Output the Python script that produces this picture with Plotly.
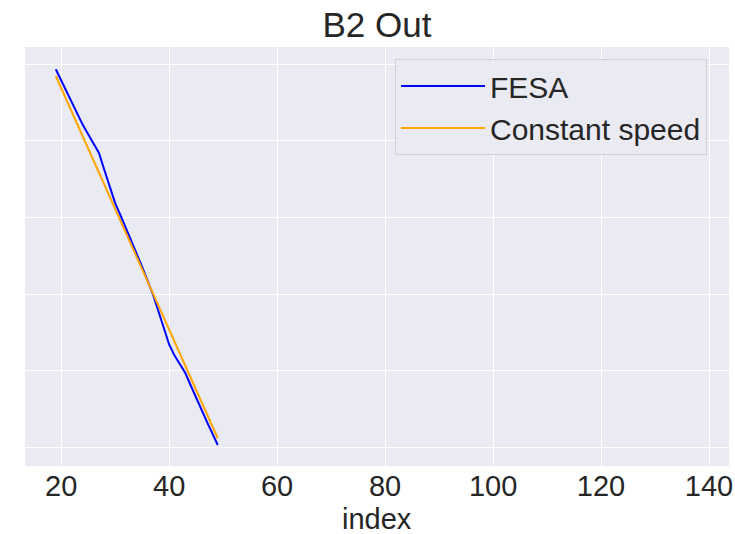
import plotly.graph_objects as go

# Data
fesa_x = list(range(19, 50))
fesa_y = [4.935, 4.787, 4.640, 4.492, 4.345, 4.210, 4.086, 3.962, 3.842, 3.621,
          3.406, 3.189, 3.026, 2.863, 2.700, 2.537, 2.356, 2.176, 1.995, 1.779,
          1.544, 1.343, 1.197, 1.082, 0.970, 0.807, 0.644, 0.484, 0.333, 0.181,
          0.030]
const_x = [19, 49]
const_y = [4.847, 0.118]

x_ticks = [20, 40, 60, 80, 100, 120, 140]
y_grid = [0, 1, 2, 3, 4, 5]

FONT = "Liberation Sans, Arial, sans-serif"
TXT = "#262626"

fig = go.Figure()
fig.add_trace(go.Scatter(x=fesa_x, y=fesa_y, mode="lines", name="FESA",
                         line=dict(color="blue", width=2)))
fig.add_trace(go.Scatter(x=const_x, y=const_y, mode="lines", name="Constant speed",
                         line=dict(color="orange", width=2)))

fig.update_layout(
    width=735, height=534,
    margin=dict(l=25, r=6, t=47, b=68, autoexpand=False),
    paper_bgcolor="white",
    plot_bgcolor="#EAEAF2",
    font=dict(family=FONT, color=TXT, size=29),
    title=dict(text="B2 Out", x=(25 + 729) / 2 / 735, xanchor="center",
               y=1 - 25 / 534, yanchor="middle", yref="container",
               font=dict(size=35, family=FONT, color=TXT)),
    xaxis=dict(range=[13.3, 143.7], tickvals=x_ticks, showgrid=True,
               gridcolor="white", gridwidth=1.3, zeroline=False,
               ticks="", ticklabelstandoff=0,
               tickfont=dict(size=29, family=FONT, color=TXT),
               automargin=False, showline=False),
    yaxis=dict(range=[-0.244, 5.226], tickvals=y_grid, showticklabels=False,
               showgrid=True, gridcolor="white", gridwidth=1.3, zeroline=False,
               showline=False, automargin=False),
    legend=dict(x=(707 - 25) / 704, xanchor="right",
                y=(466 - 59) / 419, yanchor="top", itemwidth=84,
                bgcolor="rgba(234,234,242,0.8)", bordercolor="#D0D0D6",
                borderwidth=1, font=dict(size=30, family=FONT, color=TXT)),
    showlegend=True,
    annotations=[dict(text="index", xref="paper", x=0.5, xanchor="center",
                      yref="paper", y=-(519 - 466) / 419, yanchor="middle",
                      showarrow=False,
                      font=dict(size=29, family=FONT, color=TXT))],
)

fig.write_html("out.html")
